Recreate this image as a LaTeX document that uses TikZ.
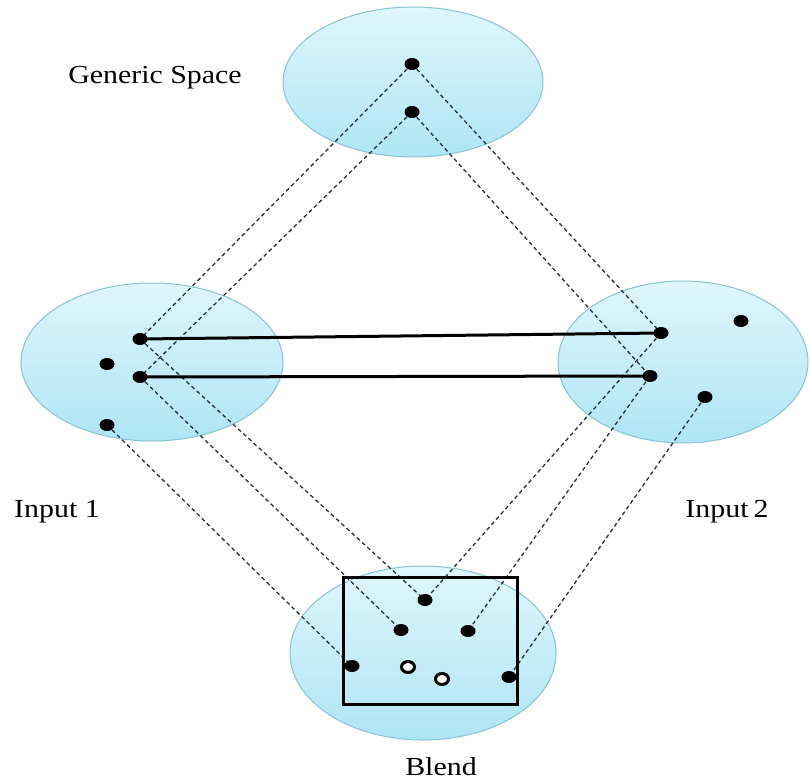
\documentclass[tikz,border=0pt]{standalone}
\usepackage{fontspec}
\setmainfont{Liberation Serif}
\usetikzlibrary{shapes.geometric}
\definecolor{bordc}{HTML}{86C3D6}
\definecolor{topc}{HTML}{DFF6FC}
\definecolor{botc}{HTML}{AEE5F5}
\definecolor{dashc}{HTML}{283238}
\pgfdeclarelayer{back}
\pgfdeclarelayer{lines}
\pgfsetlayers{back,lines,main}
\tikzset{
 space/.style={ellipse, draw=bordc, line width=1pt, top color=topc, bottom color=botc, inner sep=0},
 dot/.style={ellipse, fill=black, minimum width=15, minimum height=12, inner sep=0},
 odot/.style={ellipse, draw=black, line width=3pt, fill=white, minimum width=13, minimum height=11, inner sep=0},
 map/.style={dash pattern=on 4pt off 3pt, line width=1.3pt, draw=dashc},
 link/.style={line width=3pt, draw=black},
 frame/.style={rectangle, draw=black, line width=3pt, inner sep=0, minimum width=174, minimum height=127},
 lab/.style={font=\fontsize{26}{30}\selectfont, anchor=base, inner sep=0}
}
\begin{document}
\begin{tikzpicture}[x=1pt,y=-1pt]
\useasboundingbox (0,0) rectangle (810,781);
\begin{pgfonlayer}{back}
\fill[white] (0,0) rectangle (810,781);
\node[space, minimum width=260, minimum height=150] (gen) at (413,82) {};
\node[space, minimum width=262, minimum height=158] (in1) at (152,362) {};
\node[space, minimum width=250, minimum height=162] (in2) at (683,362) {};
\node[space, minimum width=266, minimum height=174] (bl) at (423,653) {};
\end{pgfonlayer}

\node[frame] (box) at (430,640.5) {};

% generic space
\node[dot] (g1) at (412,64) {};
\node[dot] (g2) at (412,112) {};
% input 1
\node[dot] (a1) at (140,339) {};
\node[dot] (a2) at (107,364) {};
\node[dot] (a3) at (140,377) {};
\node[dot] (a4) at (107,425) {};
% input 2
\node[dot] (b1) at (661,333) {};
\node[dot] (b2) at (741,321) {};
\node[dot] (b3) at (650,376) {};
\node[dot] (b4) at (705,397) {};
% blend
\node[dot] (c1) at (425,600) {};
\node[dot] (c2) at (401,630) {};
\node[dot] (c3) at (468,631) {};
\node[dot] (c4) at (352,666) {};
\node[odot] (o1) at (408,667) {};
\node[odot] (o2) at (442,679) {};
\node[dot] (c5) at (509,677) {};

\begin{pgfonlayer}{lines}
\draw[map] (g1.center) -- (a1.center);
\draw[map] (g1.center) -- (b1.center);
\draw[map] (g2.center) -- (a3.center);
\draw[map] (g2.center) -- (b3.center);
\draw[map] (a1.center) -- (c1.center);
\draw[map] (b1.center) -- (c1.center);
\draw[map] (a3.center) -- (c2.center);
\draw[map] (b3.center) -- (c3.center);
\draw[map] (a4.center) -- (c4.center);
\draw[map] (b4.center) -- (c5.center);
\draw[link] (a1.center) -- (b1.center);
\draw[link] (a3.center) -- (b3.center);
\end{pgfonlayer}

\node[lab] (tg) at (155,84) {\scalebox{1.15}[1]{Generic Space}};
\node[lab] (t1) at (57,517) {\scalebox{1.15}[1]{Input 1}};
\node[lab] (t2) at (727,517) {\scalebox{1.15}[1]{Input\,2}};
\node[lab] (tb) at (441,775) {\scalebox{1.15}[1]{Blend}};
\end{tikzpicture}
\end{document}
